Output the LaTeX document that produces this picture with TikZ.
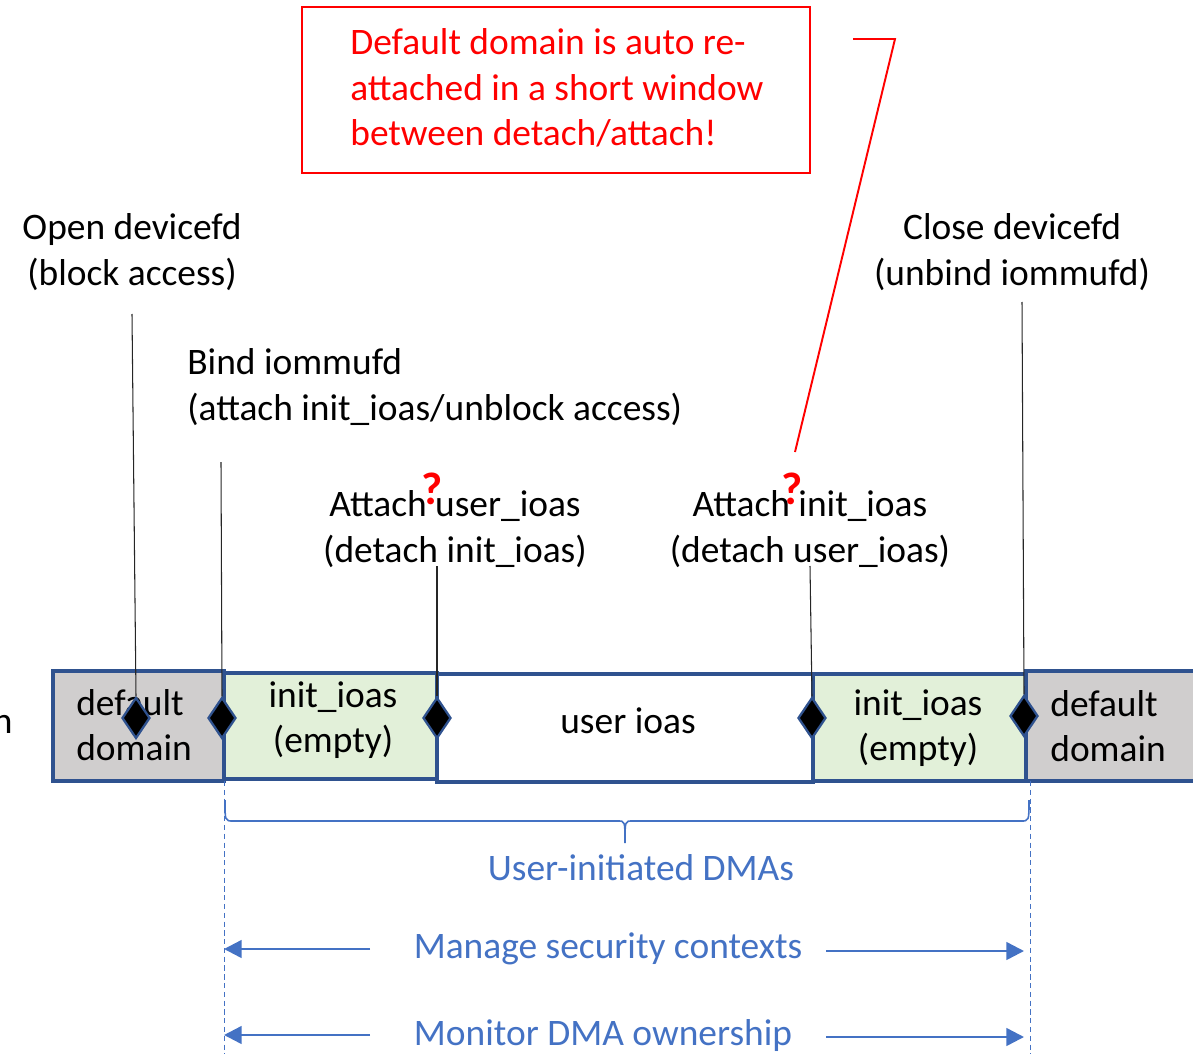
\documentclass[tikz,border=0pt]{standalone}
\usepackage{fontspec}
\setmainfont{Carlito}
\usetikzlibrary{arrows.meta,shapes.geometric}
\definecolor{barblue}{HTML}{2F528F}
\definecolor{txtblue}{HTML}{4472C4}
\definecolor{domgray}{HTML}{D0CECE}
\definecolor{ioasgreen}{HTML}{E2F0D9}
\newcommand{\segbox}[5]{
\draw[seg,fill=#5] (#1,#2) rectangle (#3,#4);
}
\tikzset{
lbl/.style={font=\fontsize{21.3}{26}\selectfont,inner sep=0pt},
seg/.style={draw=barblue,line width=2.2pt},
tickline/.style={draw=black!85,line width=0.6pt},
knob/.style={diamond,draw=barblue,fill=black,line width=1.3pt,inner sep=0pt,minimum width=0.56cm,minimum height=0.82cm},
qmark/.style={text=red,font=\fontsize{26}{26}\selectfont\bfseries,inner sep=0pt},
span/.style={draw=txtblue,line width=1.4pt,-{Triangle[length=10pt,width=10pt]}},
guide/.style={draw=txtblue,line width=0.5pt,dash pattern=on 3pt off 2pt},
}

\begin{document}
\begin{tikzpicture}[x=0.02cm,y=-0.02cm]
\useasboundingbox (0,0) rectangle (1193,1054);
% red remark
\draw[red,line width=1.1pt] (302,7) rectangle (810,173);
\path (350,88) node[lbl,anchor=west,align=left,text=red] (remark) {Default domain is auto re-\\attached in a short window\\between detach/attach!};
\coordinate (c1) at (853,39);
\coordinate (c2) at (895,39);
\coordinate (c3) at (795,452);
\draw[red,line width=1.1pt] (c1) -- (c2) -- (c3);
% labels
\path (132,252) node[lbl,align=center] (open) {Open devicefd\\(block access)};
\path (187,387) node[lbl,anchor=west,align=left] (bind) {Bind iommufd\\(attach init\_ioas/unblock access)};
\path (455,529) node[lbl,align=center] (atuser) {Attach user\_ioas\\(detach init\_ioas)};
\path (810,529) node[lbl,align=center] (atinit) {Attach init\_ioas\\(detach user\_ioas)};
\path (1012,252) node[lbl,align=center] (close) {Close devicefd\\(unbind iommufd)};
\path (432,489) node[qmark] (q1) {?};
\path (792,489) node[qmark] (q2) {?};
% the bar
\segbox{53}{671}{224}{781}{domgray}
\segbox{224}{673}{437}{779}{ioasgreen}
\segbox{437}{674}{813}{782}{white}
\segbox{813}{674}{1026}{781}{ioasgreen}
\segbox{1026}{671}{1200}{781}{domgray}
\path (13,733) node[lbl,anchor=base east] (cutlbl) {n};
\path (76,725) node[lbl,anchor=west,align=left] (dom1) {default\\domain};
\path (333,720) node[lbl,align=center] (init1) {init\_ioas\\(empty)};
\path (628,721) node[lbl] (user) {user ioas};
\path (918,728) node[lbl,align=center] (init2) {init\_ioas\\(empty)};
\path (1050,726) node[lbl,anchor=west,align=left] (dom2) {default\\domain};
\node[knob] (d1) at (136,718) {};
\node[knob] (d2) at (222,718) {};
\node[knob] (d3) at (437,718) {};
\node[knob] (d4) at (812,718) {};
\node[knob] (d5) at (1024,716) {};
\coordinate (t1) at (132,314);
\coordinate (t2) at (221,462);
\coordinate (t3) at (437,566);
\coordinate (t4) at (810,566);
\coordinate (t5) at (1022,302);
\draw[tickline] (t1) -- (d1.north);
\draw[tickline] (t2) -- (d2.north);
\draw[tickline] (t3) -- (d3.north);
\draw[tickline] (t4) -- (d4.north);
\draw[tickline] (t5) -- (d5.north);
% DMA spans
\coordinate (g1) at (224,781);
\coordinate (g2) at (224,1054);
\coordinate (g3) at (1030,781);
\coordinate (g4) at (1030,1054);
\draw[guide] (g1) -- (g2);
\draw[guide] (g3) -- (g4);
\draw[txtblue,line width=0.9pt] (225,800) .. controls (225,821) .. (233,821) -- (618,821)
  .. controls (625,821) .. (625,843) .. controls (625,821) .. (632,821) -- (1021,821)
  .. controls (1029,821) .. (1029,800);
\path (641,868) node[lbl,text=txtblue] (userdma) {User-initiated DMAs};
\path (608,949) node[lbl,text=txtblue] (manage) {Manage security contexts};
\path (603,1036) node[lbl,text=txtblue] (monitor) {Monitor DMA ownership};
\coordinate (m1) at (370,949);
\coordinate (m2) at (224,949);
\coordinate (m3) at (826,951);
\coordinate (m4) at (1024,951);
\coordinate (n1) at (370,1035);
\coordinate (n2) at (224,1035);
\coordinate (n3) at (826,1037);
\coordinate (n4) at (1024,1037);
\draw[span] (m1) -- (m2);
\draw[span] (m3) -- (m4);
\draw[span] (n1) -- (n2);
\draw[span] (n3) -- (n4);
\end{tikzpicture}
\end{document}
